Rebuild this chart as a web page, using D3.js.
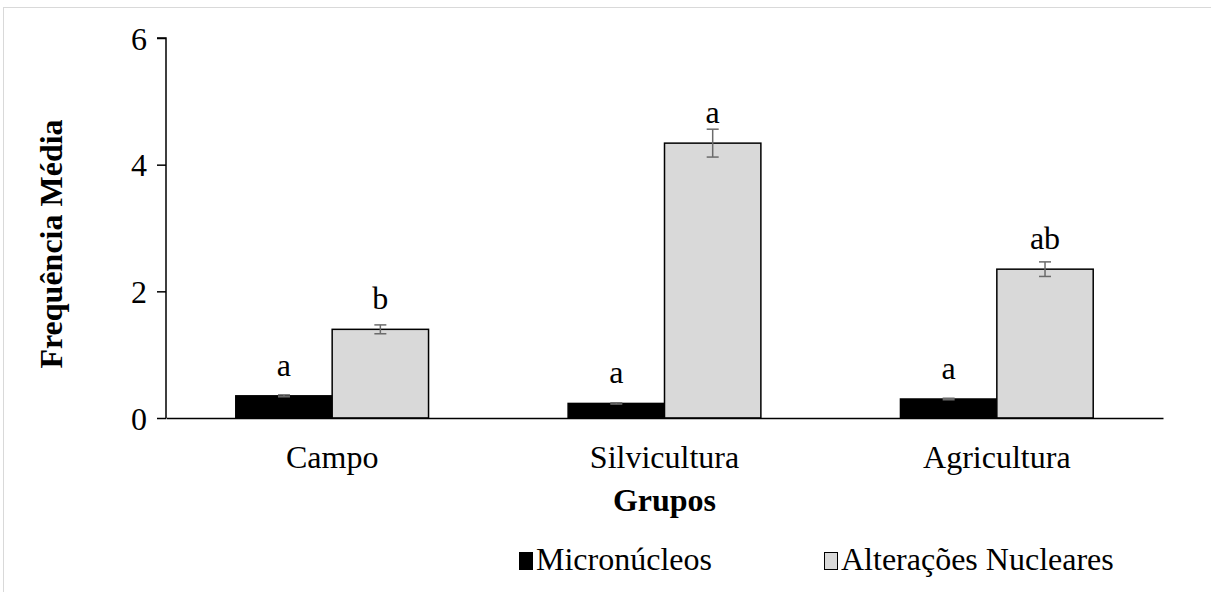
<!DOCTYPE html>
<html><head><meta charset="utf-8">
<script src="https://cdn.jsdelivr.net/npm/d3@7"></script>
<style>body{margin:0;background:#fff;} svg{display:block;}</style>
</head><body>
<svg id="chart" width="1211" height="592"></svg>
<script>
const categories = ["Campo", "Silvicultura", "Agricultura"];
const seriesNames = ["Micronúcleos", "Alterações Nucleares"];
const micro = [0.35, 0.23, 0.30];
const microErr = [0.015, 0.01, 0.012];
const alter = [1.40, 4.34, 2.35];
const alterErr = [0.07, 0.22, 0.115];
const microLetters = ["a", "a", "a"];
const alterLetters = ["b", "a", "ab"];
const yTicks = [0, 2, 4, 6];

const colors = ["#000000", "#d9d9d9"];
const font = "'Liberation Serif','Times New Roman',serif";
const fs = 32;

const svg = d3.select("#chart");
svg.append("rect").attr("x", 3.5).attr("y", 7.5).attr("width", 1220).attr("height", 600)
  .attr("fill", "none").attr("stroke", "#d9d9d9").attr("stroke-width", 1);

const m = {left: 166, right: 1163, top: 38, bottom: 418};
const x = d3.scaleBand().domain(categories).range([m.left, m.right]).paddingInner(0.42).paddingOuter(0.21);
const xs = d3.scaleBand().domain(seriesNames).range([0, x.bandwidth()]);
const y = d3.scaleLinear().domain([0, 6]).range([m.bottom, m.top]);

const data = categories.map((c, i) => ({
  cat: c,
  vals: [
    {s: seriesNames[0], v: micro[i], e: microErr[i], l: microLetters[i], c: colors[0]},
    {s: seriesNames[1], v: alter[i], e: alterErr[i], l: alterLetters[i], c: colors[1]}
  ]
}));

const g = svg.append("g");
const groups = g.selectAll(".grp").data(data).join("g").attr("transform", d => `translate(${x(d.cat)},0)`);
groups.selectAll("rect").data(d => d.vals).join("rect")
  .attr("x", d => xs(d.s)).attr("width", xs.bandwidth())
  .attr("y", d => y(d.v)).attr("height", d => y(0) - y(d.v))
  .attr("fill", d => d.c).attr("stroke", "#000").attr("stroke-width", 1.5);

// error bars
const eb = groups.selectAll(".eb").data(d => d.vals).join("g").attr("class", "eb")
  .attr("stroke", "#6b6b6b").attr("stroke-width", 1.5);
eb.append("line").attr("x1", d => xs(d.s) + xs.bandwidth()/2).attr("x2", d => xs(d.s) + xs.bandwidth()/2)
  .attr("y1", d => y(d.v + d.e)).attr("y2", d => y(d.v - d.e));
eb.append("line").attr("x1", d => xs(d.s) + xs.bandwidth()/2 - 6).attr("x2", d => xs(d.s) + xs.bandwidth()/2 + 6)
  .attr("y1", d => y(d.v + d.e)).attr("y2", d => y(d.v + d.e));
eb.append("line").attr("x1", d => xs(d.s) + xs.bandwidth()/2 - 6).attr("x2", d => xs(d.s) + xs.bandwidth()/2 + 6)
  .attr("y1", d => y(d.v - d.e)).attr("y2", d => y(d.v - d.e));

// letters
groups.selectAll(".lbl").data(d => d.vals).join("text")
  .attr("x", d => xs(d.s) + xs.bandwidth()/2).attr("y", d => y(d.v) - 20)
  .attr("text-anchor", "middle").attr("font-family", font).attr("font-size", fs).attr("fill", "#000")
  .text(d => d.l);

// y axis
const yAxis = svg.append("g").attr("transform", `translate(${m.left},0)`)
  .call(d3.axisLeft(y).tickValues(yTicks).tickSize(9).tickPadding(10).tickFormat(d3.format("d")));
yAxis.select(".domain").attr("stroke", "#000").attr("stroke-width", 1.5).attr("d", `M-9,${y(6)}H0V${y(0)}`);
yAxis.selectAll(".tick line").attr("stroke", "#000").attr("stroke-width", 1.5);
yAxis.selectAll("text").attr("font-family", font).attr("font-size", fs).attr("fill", "#000").attr("dy", "0.35em");

// x axis
const xAxis = svg.append("g").attr("transform", `translate(0,${m.bottom})`)
  .call(d3.axisBottom(x).tickSize(0));
xAxis.select(".domain").attr("stroke", "#000").attr("stroke-width", 1.5);
xAxis.selectAll("text").attr("font-family", font).attr("font-size", fs).attr("fill", "#000")
  .attr("y", 50).attr("dy", 0);

// titles
svg.append("text").attr("transform", `translate(62,244) rotate(-90)`).attr("text-anchor", "middle")
  .attr("font-family", font).attr("font-size", fs).attr("font-weight", "bold").text("Frequência Média");
svg.append("text").attr("x", (m.left + m.right)/2).attr("y", 511).attr("text-anchor", "middle")
  .attr("font-family", font).attr("font-size", fs).attr("font-weight", "bold").text("Grupos");

// legend
const legendX = [519, 824];
const lg = svg.selectAll(".lg").data(seriesNames).join("g").attr("transform", (d, i) => `translate(${legendX[i]},0)`);
lg.append("rect").attr("x", 0.5).attr("y", 552.5).attr("width", 13).attr("height", 17)
  .attr("fill", (d, i) => colors[i]).attr("stroke", "#000").attr("stroke-width", 1);
lg.append("text").attr("x", 17).attr("y", 570).attr("font-family", font).attr("font-size", fs).attr("fill", "#000").text(d => d);
</script>
</body></html>
